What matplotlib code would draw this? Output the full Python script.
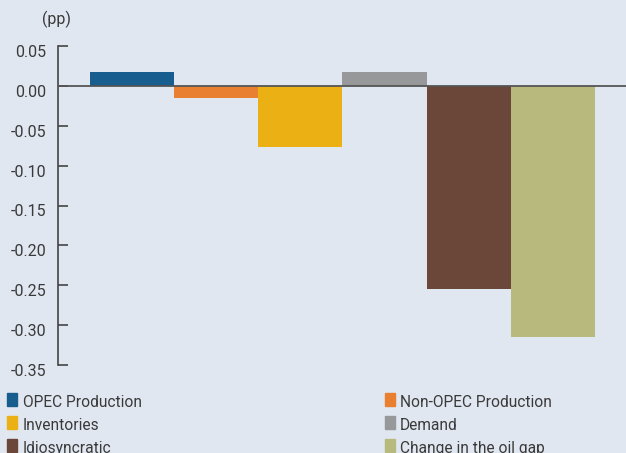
import matplotlib
matplotlib.use("Agg")
import matplotlib.pyplot as plt
import matplotlib.transforms as mtransforms
from matplotlib.patches import Rectangle

categories = ["OPEC Production", "Non-OPEC Production", "Inventories",
              "Demand", "Idiosyncratic", "Change in the oil gap"]
values = [0.018, -0.015, -0.077, 0.017, -0.255, -0.315]
colors = ["#175e8e", "#e97f30", "#ebb014", "#97989a", "#6b4739", "#b8ba7d"]
yticks = [0.05, 0.00, -0.05, -0.10, -0.15, -0.20, -0.25, -0.30, -0.35]

bg = "#e0e7f1"
txt = "#3a3a3a"
plt.rcParams["font.family"] = ["Roboto", "DejaVu Sans"]

W, H = 626, 453
fig = plt.figure(figsize=(W / 100, H / 100), dpi=100, facecolor=bg)
# axes: left spine at x=58, top 0.05 at y=46, bottom -0.35 at y=365
ax = fig.add_axes([58 / W, 1 - 365 / H, (W - 58) / W, (365 - 46) / H])
ax.set_facecolor(bg)

x = list(range(len(categories)))
ax.bar(x, values, width=1.0, color=colors, zorder=2)
ax.axhline(0, color="#555555", lw=1.3, zorder=3)

ax.set_xlim(-0.88, 5.87)
ax.set_ylim(-0.35, 0.05)
ax.set_yticks(yticks)
ax.set_yticklabels(["%.2f" % v for v in yticks], fontsize=11.5, color=txt)
ax.tick_params(axis="y", direction="in", length=7, width=1.2, color="#444444", pad=8.5)
ax.set_xticks([])
for s in ["top", "right", "bottom"]:
    ax.spines[s].set_visible(False)
ax.spines["left"].set_color("#444444")
ax.spines["left"].set_linewidth(1.2)

# tick labels sit a little below their ticks
offset = mtransforms.ScaledTranslation(0, -5 / 100, fig.dpi_scale_trans)
for lab in ax.get_yticklabels():
    lab.set_transform(lab.get_transform() + offset)

fig.text(42 / W, 1 - 19 / H, "(pp)", fontsize=11.5, color=txt, va="center", ha="left")

# legend, two columns
sq_x = [7, 385]
tx_x = [23, 400]
baseline = [407, 430, 453]
for i, (name, c) in enumerate(zip(categories, colors)):
    col = i % 2
    by = baseline[i // 2]
    fig.patches.append(Rectangle((sq_x[col] / W, 1 - (by - 1) / H), 10 / W, 13 / H,
                                 transform=fig.transFigure, color=c))
    fig.text(tx_x[col] / W, 1 - by / H, name, fontsize=11.2, color=txt,
             va="baseline", ha="left")

fig.savefig("out.png", dpi=100, facecolor=bg)
